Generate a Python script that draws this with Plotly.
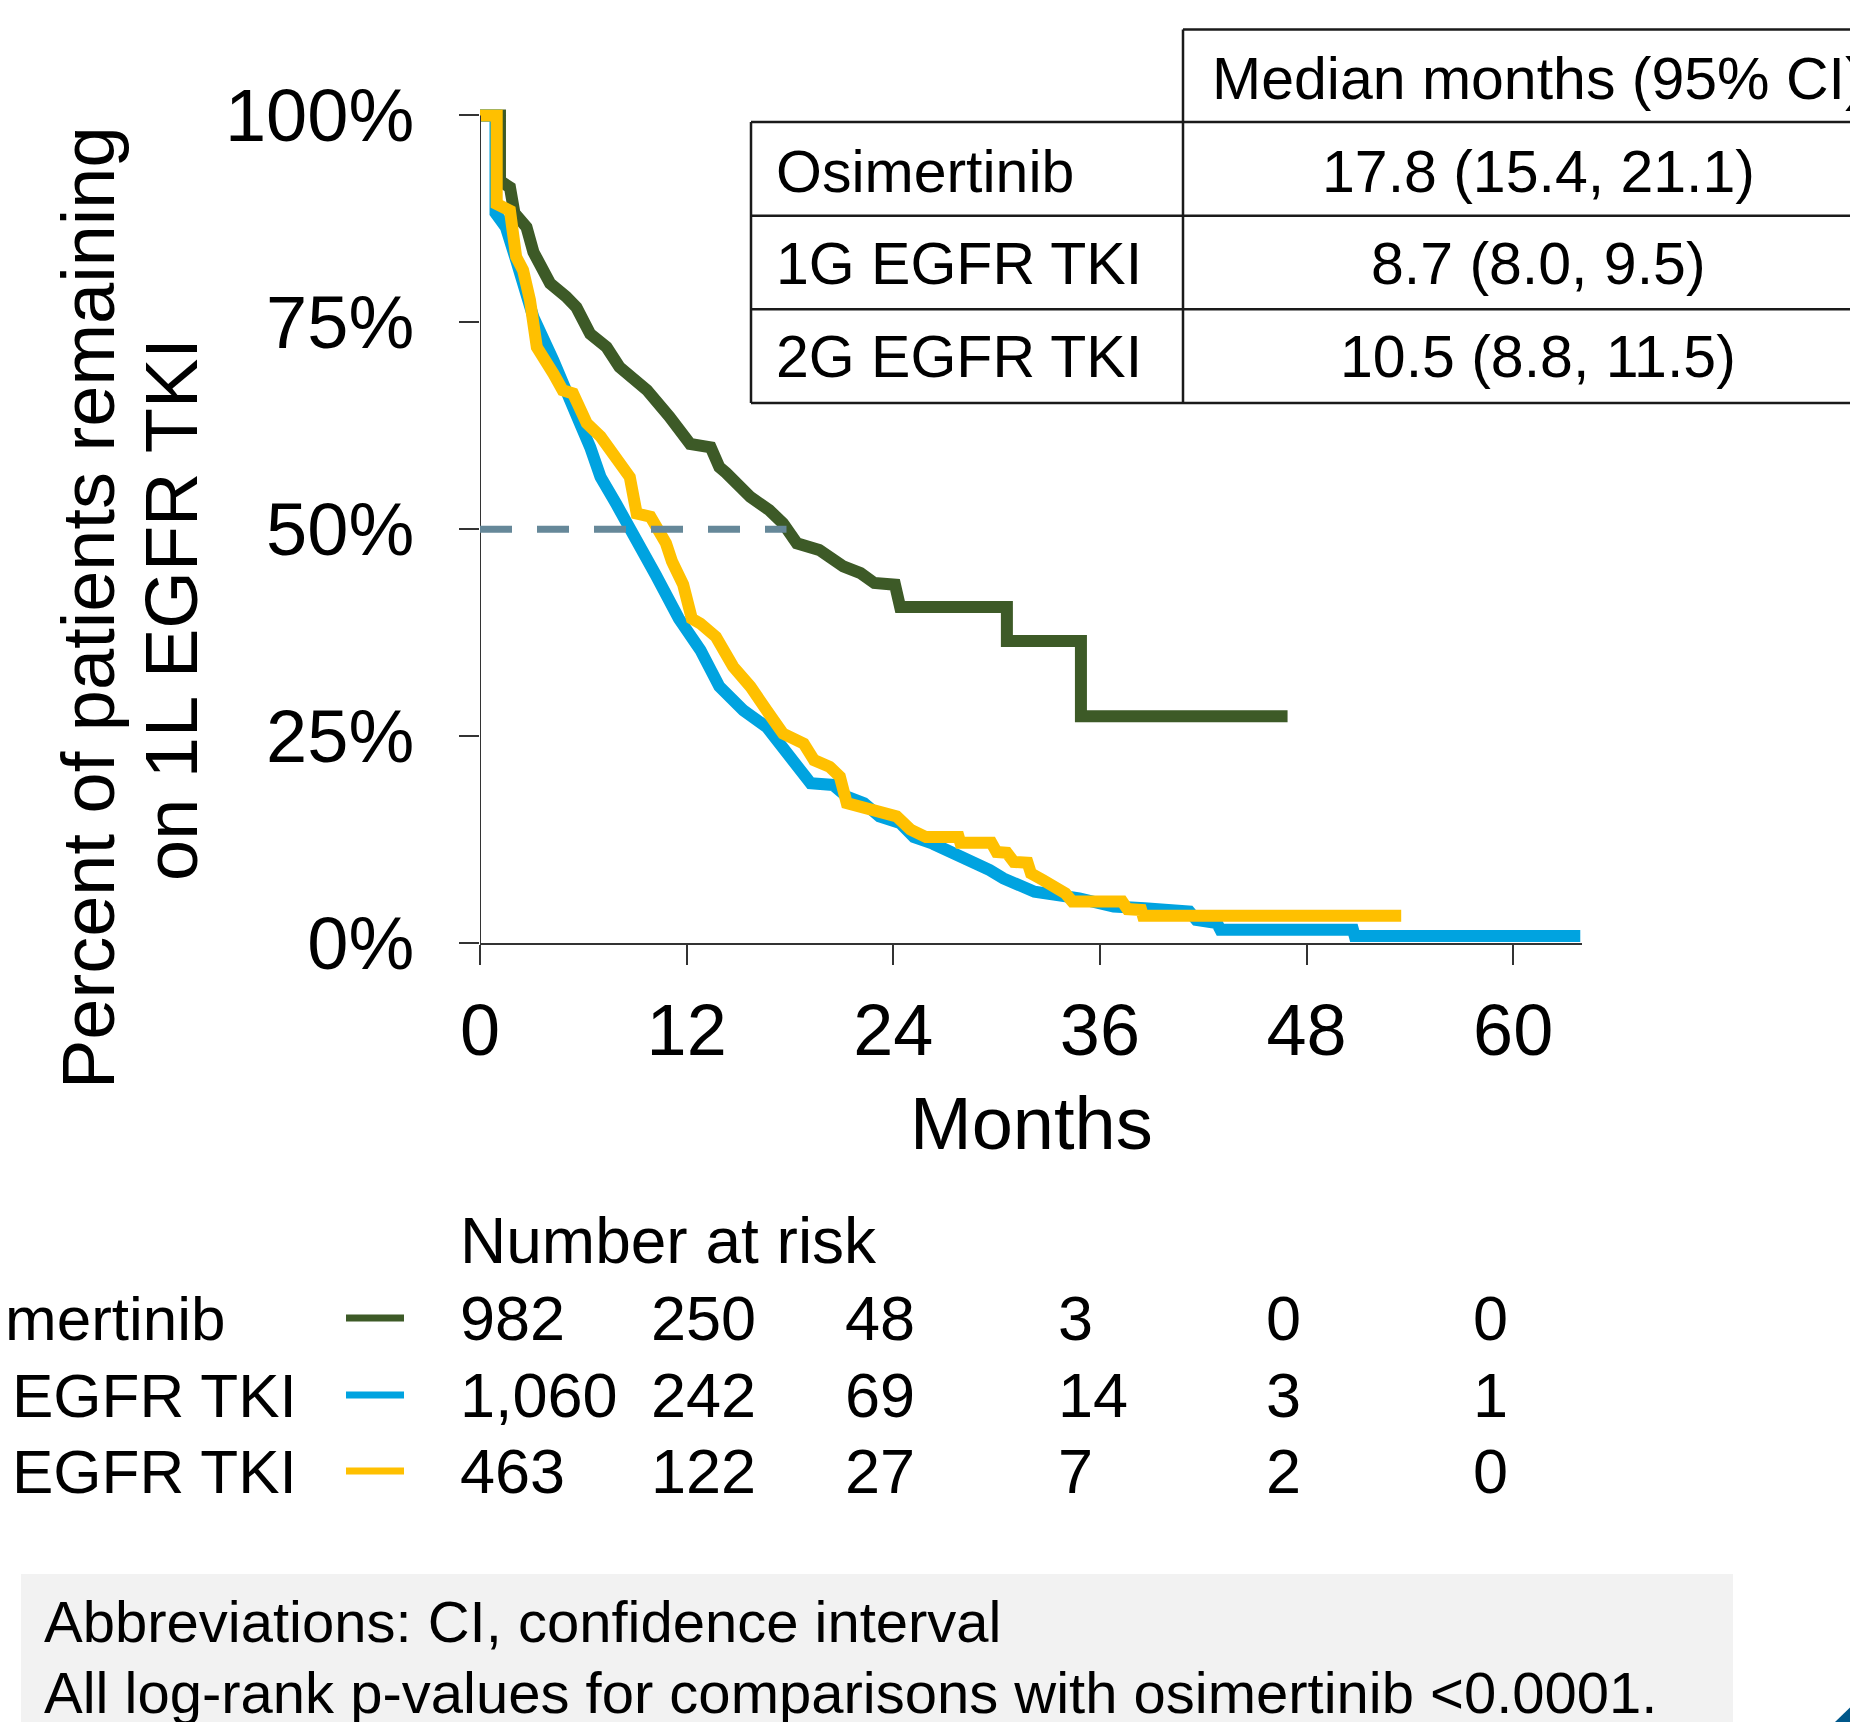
import plotly.graph_objects as go

# ---------------- data ----------------
osi_t = [0, 1.16, 1.16, 1.74, 2.0, 2.7, 3.1, 4.07, 5.0, 5.6, 6.4, 7.35, 8.1, 8.9, 9.7, 11.0, 12.2, 13.4,
         13.9, 14.3, 15.7, 16.8, 17.6, 18.4, 19.7, 21.1, 22.1, 22.9, 24.1, 24.4, 30.6, 30.6, 34.9, 34.9, 46.9]
osi_s = [100, 100, 92.1, 91.3, 88.2, 86.5, 83.5, 79.7, 78.1, 76.8, 73.6, 72.0, 69.6, 68.0, 66.8, 63.6, 60.3, 59.9,
         57.5, 56.8, 53.9, 52.3, 50.7, 48.3, 47.5, 45.5, 44.7, 43.5, 43.3, 40.6, 40.6, 36.5, 36.5, 27.4, 27.4]

g1_t = [0, 0.9, 0.9, 1.5, 2.1, 2.5, 3.1, 4.26, 5.0, 5.8, 6.4, 7.0, 7.9, 8.7, 9.1, 10.2, 11.55, 12.8, 13.9,
        15.3, 16.65, 17.4, 18.4, 19.2, 20.5, 21.3, 22.3, 23.2, 24.4, 25.2, 26.3, 27.5, 28.5, 29.6, 30.4,
        32.2, 34.8, 36.8, 38.6, 41.2, 41.6, 42.8, 43.0, 50.7, 50.8, 63.9]
g1_s = [100, 100, 88.2, 86.5, 82.5, 79.7, 75.6, 70.4, 66.4, 62.8, 59.9, 56.3, 53.1, 50.3, 48.3, 44.5, 39.2, 35.4, 31.0,
        28.1, 26.1, 24.1, 21.7, 19.3, 19.1, 17.7, 16.9, 15.3, 14.5, 12.8, 12.0, 10.9, 9.8, 8.8, 7.8,
        6.2, 5.4, 4.4, 4.2, 3.8, 2.8, 2.4, 1.6, 1.6, 0.85, 0.85]

g2_t = [0, 0.97, 0.97, 1.74, 2.1, 2.5, 2.9, 3.3, 4.26, 4.8, 5.4, 6.2, 7.0, 7.9, 8.7, 9.1, 9.9, 10.8, 11.15,
        11.8, 12.3, 12.8, 13.7, 14.7, 15.7, 16.65, 17.6, 18.8, 19.4, 20.3, 20.9, 21.3, 22.5, 24.2, 25.0,
        25.9, 27.8, 27.9, 29.7, 30.0, 30.6, 31.0, 31.8, 32.0, 32.7, 33.3, 34.0, 34.4, 37.3, 37.6, 38.4,
        38.5, 53.5]
g2_s = [100, 100, 89.3, 88.5, 82.9, 81.3, 77.7, 72.0, 68.8, 66.8, 66.4, 62.8, 61.2, 58.7, 56.3, 51.9, 51.5, 48.3, 46.1,
        43.3, 39.2, 38.6, 37.0, 33.4, 31.0, 28.1, 25.3, 24.1, 22.1, 21.3, 20.1, 16.9, 16.1, 15.3, 13.7,
        12.8, 12.8, 12.1, 12.1, 11.0, 10.9, 9.8, 9.7, 8.4, 7.6, 6.8, 6.0, 5.0, 5.0, 4.1, 4.0,
        3.3, 3.3]

groups = ["Osimertinib", "1G EGFR TKI", "2G EGFR TKI"]
medians = ["17.8 (15.4, 21.1)", "8.7 (8.0, 9.5)", "10.5 (8.8, 11.5)"]
median_osi = 17.8
x_ticks = [0, 12, 24, 36, 48, 60]
y_ticks = [0, 25, 50, 75, 100]
y_tick_labels = ["0%", "25%", "50%", "75%", "100%"]
risk = [["982", "250", "48", "3", "0", "0"],
        ["1,060", "242", "69", "14", "3", "1"],
        ["463", "122", "27", "7", "2", "0"]]

colors = ["#3D5A27", "#00A3E0", "#FFC000"]
FONT = "Liberation Sans, Arial, sans-serif"

W, H = 1858, 1722
OFF = 8  # page body margin
L, R, T, B = 480, 1582, 103, 943
PW, PH = R - L, B - T


def xp(px):
    return (px - L) / PW


def yp(py):
    return (B - py) / PH


fig = go.Figure()
series = [(osi_t, osi_s), (g1_t, g1_s), (g2_t, g2_s)]
for i in [0, 1, 2]:
    t, s = series[i]
    fig.add_trace(go.Scatter(x=t, y=s, mode="lines", line=dict(color=colors[i], width=12),
                             name=groups[i], showlegend=False, hoverinfo="skip"))

shapes = []
shapes.append(dict(type="line", xref="x", yref="y", x0=0, x1=0, y0=0, y1=100,
                   line=dict(color="#333333", width=2)))
shapes.append(dict(type="line", xref="x", yref="y", x0=0, x1=median_osi, y0=50, y1=50,
                   line=dict(color="#668899", width=7, dash="32px,25px"), layer="above"))

tl = dict(color="#1a1a1a", width=2.5)
for (x0, x1, y0) in [(1183, 1870, 29.6), (751, 1870, 122), (751, 1870, 215.7), (751, 1870, 309.3), (751, 1870, 403)]:
    shapes.append(dict(type="line", xref="paper", yref="paper", x0=xp(x0), x1=xp(x1), y0=yp(y0), y1=yp(y0), line=tl))
for (x0, y0, y1) in [(751, 122, 403), (1183, 29.6, 403)]:
    shapes.append(dict(type="line", xref="paper", yref="paper", x0=xp(x0), x1=xp(x0), y0=yp(y0), y1=yp(y1), line=tl))

risk_y = [1318, 1395, 1471]
for i in range(3):
    shapes.append(dict(type="line", xref="paper", yref="paper", x0=xp(346), x1=xp(404),
                       y0=yp(risk_y[i]), y1=yp(risk_y[i]), line=dict(color=colors[i], width=7)))

shapes.append(dict(type="rect", xref="paper", yref="paper", x0=xp(21), x1=xp(1733), y0=yp(1574), y1=yp(1740),
                   fillcolor="#F2F2F2", line=dict(width=0), layer="below"))
shapes.append(dict(type="path", xref="paper", yref="paper",
                   path=f"M {xp(1835)},{yp(1722)} L {xp(1870)},{yp(1688)} L {xp(1870)},{yp(1740)} L {xp(1835)},{yp(1740)} Z",
                   fillcolor="#00578A", line=dict(width=0)))

ann = []


def text(s, x, y, size, xanchor="left", angle=0):
    ann.append(dict(text=s, xref="paper", yref="paper", x=xp(x), y=yp(y), xanchor=xanchor, yanchor="middle",
                    showarrow=False, textangle=angle, font=dict(family=FONT, size=size, color="#000000")))


text("Percent of patients remaining", 88, 608, 74, "center", -90)
text("on 1L EGFR TKI", 171, 610, 74, "center", -90)
text("Months", 1031, 1123, 74, "center")

text("Median months (95% CI)", 1538, 79, 59, "center")
row_y = [172, 264, 357]
for i in range(3):
    text(groups[i], 774, row_y[i], 59, "left")
    text(medians[i], 1538, row_y[i], 59, "center")

text("Number at risk", 458, 1241, 64, "left")
col_x = [458, 648.6, 843, 1056, 1264, 1471]
for i in range(3):
    text(groups[i], -90, risk_y[i], 62, "left")
    for j in range(6):
        text(risk[i][j], col_x[j], risk_y[i], 63, "left")

text("Abbreviations: CI, confidence interval", 41.5, 1621, 58, "left")
text("All log-rank p-values for comparisons with osimertinib &lt;0.0001.", 41.5, 1692, 58, "left")

fig.update_layout(
    width=W, height=H,
    margin=dict(l=L - OFF, r=W - R + OFF, t=T - OFF, b=H - B + OFF, pad=0),
    paper_bgcolor="white", plot_bgcolor="white",
    shapes=shapes, annotations=ann,
    xaxis=dict(range=[0, 64], tickvals=x_ticks, ticktext=[str(v) for v in x_ticks],
               showgrid=False, zeroline=False, showline=True, linecolor="#333333", linewidth=2,
               ticks="outside", ticklen=20, tickwidth=2, tickcolor="#333333",
               tickfont=dict(family=FONT, size=72, color="#000000"), ticklabelstandoff=4),
    yaxis=dict(range=[0, 101.5], tickvals=y_ticks, ticktext=y_tick_labels,
               showgrid=False, zeroline=False, showline=False,
               ticks="outside", ticklen=20, tickwidth=2, tickcolor="#333333",
               tickfont=dict(family=FONT, size=74, color="#000000"), ticklabelstandoff=30),
)

fig.write_html("out.html")
